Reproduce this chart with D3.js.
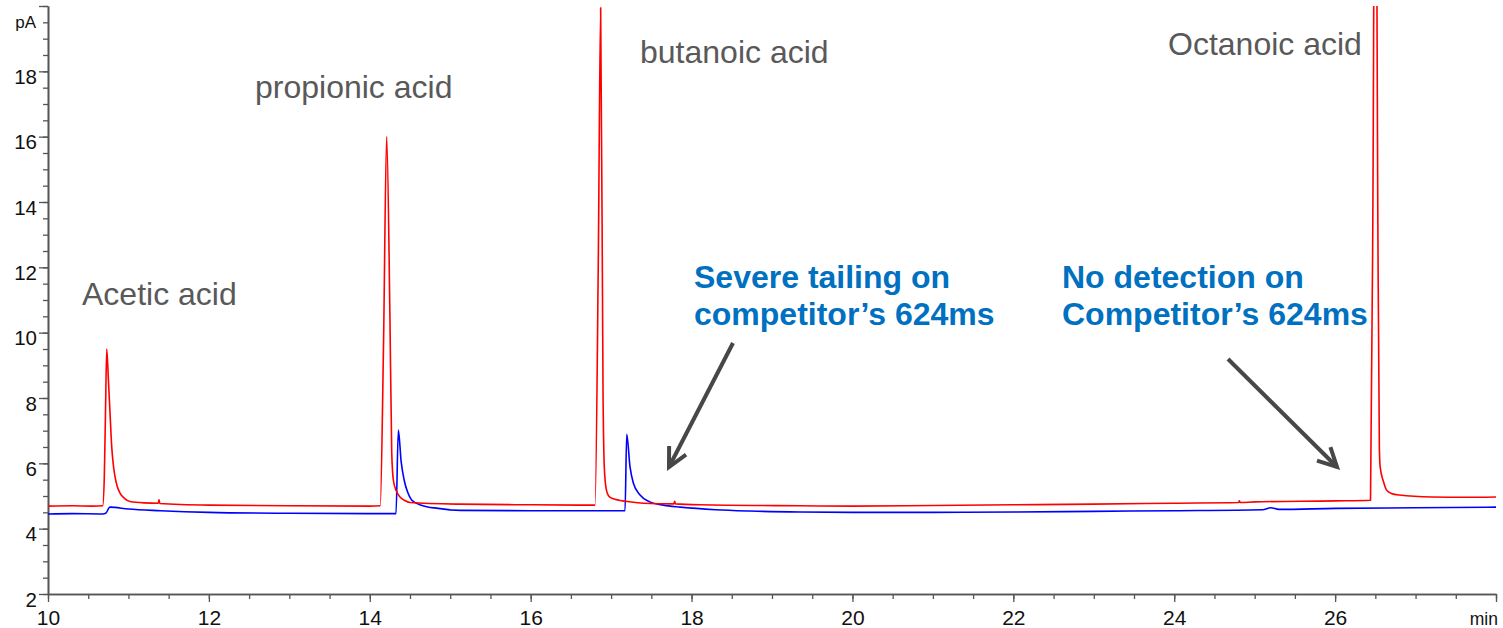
<!DOCTYPE html>
<html><head><meta charset="utf-8">
<script src="https://cdn.jsdelivr.net/npm/d3@7"></script>
<style>
html,body{margin:0;padding:0;background:#fff;}
svg{display:block;font-family:Arial,"Liberation Sans",sans-serif;}
</style>
</head><body>
<svg id="chart" width="1503" height="628"></svg>
<script>
// ---- data (time in min, signal in pA) ----
const xTicks = [10, 12, 14, 16, 18, 20, 22, 24, 26, 28];
const xTickLabels = ["10", "12", "14", "16", "18", "20", "22", "24", "26", ""];
const yTicks = [2, 4, 6, 8, 10, 12, 14, 16, 18, 20];
const yTickLabels = ["2", "4", "6", "8", "10", "12", "14", "16", "18", ""];
const xUnit = "min";
const yUnit = "pA";

// red trace (our column)
const redTrace = [
  [10.00, 4.69], [10.30, 4.70], [10.55, 4.69], [10.68, 4.70],
  [10.70, 5.60], [10.715, 7.60], [10.73, 9.50], [10.75, 8.60],
  [10.771, 7.54], [10.792, 6.51], [10.81, 6.00], [10.833, 5.59], [10.86, 5.30],
  [10.895, 5.09], [10.95, 4.93],
  [11.02, 4.83], [11.20, 4.79], [11.37, 4.78], [11.38, 4.88], [11.39, 4.77],
  [12.00, 4.72], [13.00, 4.70], [14.00, 4.69], [14.13, 4.70],
  [14.17, 9.50], [14.21, 16.00], [14.251, 10.40], [14.273, 6.32],
  [14.293, 5.49], [14.33, 5.15], [14.376, 4.97], [14.43, 4.87], [14.50, 4.80], [15.12, 4.75],
  [16.00, 4.73], [16.80, 4.72],
  [16.84, 12.00], [16.87, 19.95], [16.90, 8.00], [16.915, 5.90],
  [16.94, 5.20], [16.97, 5.00], [17.02, 4.92], [17.20, 4.83],
  [17.40, 4.78], [17.78, 4.76], [17.79, 4.84], [17.80, 4.76],
  [18.10, 4.73], [19.35, 4.70], [20.00, 4.69], [21.00, 4.71],
  [22.00, 4.73], [23.00, 4.75], [24.00, 4.78], [24.80, 4.80],
  [24.81, 4.85], [24.82, 4.80], [25.00, 4.82], [26.00, 4.85], [26.44, 4.87],
  [26.47, 14.00], [26.50, 30.00], [26.53, 14.00], [26.55, 6.50],
  [26.56, 5.89], [26.60, 5.45], [26.64, 5.18], [26.70, 5.08], [26.80, 5.03], [27.21, 4.97],
  [27.60, 4.96], [28.00, 4.97]
];

// blue trace (competitor's column)
const blueTrace = [
  [10.00, 4.45], [10.30, 4.46], [10.68, 4.45], [10.717, 4.47],
  [10.77, 4.66], [11.00, 4.60], [11.40, 4.55], [12.00, 4.50],
  [13.00, 4.47], [14.00, 4.46], [14.326, 4.46],
  [14.355, 7.02], [14.39, 6.05], [14.43, 5.46], [14.47, 5.12], [14.52, 4.88], [14.64, 4.72],
  [14.85, 4.62], [15.13, 4.56], [16.00, 4.55], [17.173, 4.55],
  [17.194, 6.89], [17.235, 5.89], [17.276, 5.40], [17.36, 5.03],
  [17.48, 4.82], [17.65, 4.72], [17.86, 4.66], [18.30, 4.58], [18.73, 4.54], [19.35, 4.51],
  [20.00, 4.50], [21.00, 4.50], [22.00, 4.51], [23.00, 4.53],
  [24.00, 4.55], [25.10, 4.58], [25.20, 4.64], [25.30, 4.59],
  [26.00, 4.62], [27.00, 4.64], [28.00, 4.66]
];

const peakLabels = ["Acetic acid", "propionic acid", "butanoic acid", "Octanoic acid"];
const noteTailing = ["Severe tailing on", "competitor\u2019s 624ms"];
const noteNoDetect = ["No detection on", "Competitor\u2019s 624ms"];

// ---- layout ----
const svg = d3.select("#chart");
const L = 48, R = 1496, T = 6, B = 594;
const x = d3.scaleLinear().domain([10, 28]).range([L, R]);
const y = d3.scaleLinear().domain([2, 20]).range([B, T]);
const axisColor = "#555555";
const textColor = "#111111";

svg.append("defs").append("clipPath").attr("id", "plotClip")
  .append("rect").attr("x", L).attr("y", T).attr("width", R - L).attr("height", B - T);

// ---- axes ----
const xMinor = d3.range(10, 28.001, 0.5);
const yMinor = d3.range(2, 20.001, 0.5);

function styleAxis(g) {
  g.selectAll("path.domain").attr("stroke", axisColor).attr("stroke-width", 1.6);
  g.selectAll(".tick line").attr("stroke", axisColor).attr("stroke-width", 1.3);
}

const gxMinor = svg.append("g").attr("transform", `translate(0,${B})`)
  .call(d3.axisBottom(x).tickValues(xMinor).tickSize(5).tickSizeOuter(0).tickFormat(""));
styleAxis(gxMinor);
const gx = svg.append("g").attr("transform", `translate(0,${B})`)
  .call(d3.axisBottom(x).tickValues(xTicks).tickSize(8).tickSizeOuter(0)
    .tickFormat((d, i) => xTickLabels[i]));
styleAxis(gx);
gx.selectAll(".tick text").attr("y", 31).attr("dy", 0)
  .attr("font-size", 21).attr("font-family", 'Arial,"Liberation Sans",sans-serif')
  .attr("fill", textColor);

const gyMinor = svg.append("g").attr("transform", `translate(${L},0)`)
  .call(d3.axisLeft(y).tickValues(yMinor).tickSize(5).tickSizeOuter(0).tickFormat(""));
styleAxis(gyMinor);
const gy = svg.append("g").attr("transform", `translate(${L},0)`)
  .call(d3.axisLeft(y).tickValues(yTicks).tickSize(9).tickSizeOuter(0)
    .tickFormat((d, i) => yTickLabels[i]));
styleAxis(gy);
gy.selectAll(".tick text").attr("x", -11).attr("y", 12).attr("dy", 0)
  .attr("font-size", 20.5).attr("font-family", 'Arial,"Liberation Sans",sans-serif')
  .attr("fill", textColor);

svg.append("text").attr("x", 36).attr("y", y(19.5) + 6)
  .attr("text-anchor", "end").attr("font-size", 17).attr("fill", textColor)
  .text(yUnit);
svg.append("text").attr("x", R + 2).attr("y", 625)
  .attr("text-anchor", "end").attr("font-size", 17.5).attr("fill", textColor)
  .text(xUnit);

// ---- traces ----
const line = d3.line().x(d => x(d[0])).y(d => y(d[1])).curve(d3.curveMonotoneX);
const plot = svg.append("g").attr("clip-path", "url(#plotClip)");
plot.append("path").datum(blueTrace).attr("d", line)
  .attr("fill", "none").attr("stroke", "#0000ff").attr("stroke-width", 1.6)
  .attr("stroke-linejoin", "round");
plot.append("path").datum(redTrace).attr("d", line)
  .attr("fill", "none").attr("stroke", "#ff0000").attr("stroke-width", 1.6)
  .attr("stroke-linejoin", "round");

// ---- peak labels ----
const labelPos = [[82, 305], [255, 98], [640, 63], [1168, 55]];
peakLabels.forEach((t, i) => {
  svg.append("text").attr("x", labelPos[i][0]).attr("y", labelPos[i][1])
    .attr("font-size", 32).attr("fill", "#595959").text(t);
});

// ---- blue notes ----
function note(lines, x0) {
  lines.forEach((t, i) => {
    svg.append("text").attr("x", x0).attr("y", 288 + i * 37)
      .attr("font-size", 32).attr("font-weight", "bold").attr("fill", "#0070c0")
      .text(t);
  });
}
note(noteTailing, 694);
note(noteNoDetect, 1062);

// ---- arrows ----
function arrow(x1, y1, x2, y2) {
  const g = svg.append("g").attr("stroke", "#474747").attr("stroke-width", 4)
    .attr("fill", "none");
  g.append("line").attr("x1", x1).attr("y1", y1).attr("x2", x2).attr("y2", y2);
  const back = Math.atan2(y1 - y2, x1 - x2);
  const a = 27 * Math.PI / 180, len = 21;
  const p1 = [x2 + len * Math.cos(back - a), y2 + len * Math.sin(back - a)];
  const p2 = [x2 + len * Math.cos(back + a), y2 + len * Math.sin(back + a)];
  g.append("path").attr("d", `M${p1[0]},${p1[1]}L${x2},${y2}L${p2[0]},${p2[1]}`)
    .attr("stroke-linejoin", "miter");
}
arrow(733, 343, 669, 467);
arrow(1228, 359, 1337, 467);
</script>
</body></html>
